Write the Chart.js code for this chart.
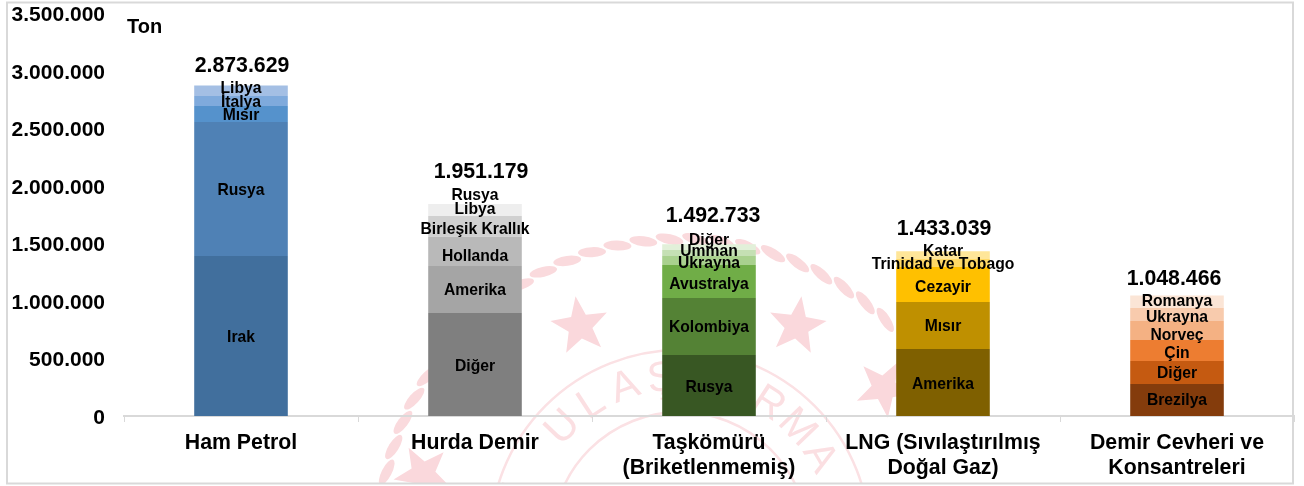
<!DOCTYPE html>
<html lang="tr">
<head>
<meta charset="utf-8">
<title>Ton</title>
<script src="https://cdn.jsdelivr.net/npm/chart.js@4"></script>
<style>
  html, body { margin: 0; padding: 0; background: #fff; }
  canvas { display: block; }
</style>
</head>
<body>
<canvas id="chart" width="1304" height="486"></canvas>
<script>
const categories = [
  "Ham Petrol",
  "Hurda Demir",
  ["Taşkömürü", "(Briketlenmemiş)"],
  ["LNG (Sıvılaştırılmış", "Doğal Gaz)"],
  ["Demir Cevheri ve", "Konsantreleri"],
];
const totals = [2873629, 1951179, 1492733, 1433039, 1048466];

// bottom to top in every stack
const hamPetrolNames = ["Irak", "Rusya", "Mısır", "İtalya", "Libya"];
const hamPetrolValues = [1391000, 1165000, 139000, 87000, 91629];
const hurdaNames = ["Diğer", "Amerika", "Hollanda", "Birleşik Krallık", "Libya", "Rusya"];
const hurdaValues = [895000, 409000, 255000, 180000, 104000, 108179];
const komurNames = ["Rusya", "Kolombiya", "Avustralya", "Ukrayna", "Umman", "Diğer"];
const komurValues = [530000, 496000, 287000, 78000, 52000, 49733];
const lngNames = ["Amerika", "Mısır", "Cezayir", "Trinidad ve Tobago", "Katar"];
const lngValues = [583000, 409000, 304000, 70000, 67039];
const cevherNames = ["Brezilya", "Diğer", "Çin", "Norveç", "Ukrayna", "Romanya"];
const cevherValues = [278000, 200000, 183000, 165000, 113000, 109466];

const stackNames = [hamPetrolNames, hurdaNames, komurNames, lngNames, cevherNames];
const stackValues = [hamPetrolValues, hurdaValues, komurValues, lngValues, cevherValues];

const stackColors = [
  ["#416f9d", "#4f81b5", "#5592cc", "#7faadc", "#a4bfe4"],
  ["#7f7f7f", "#a5a5a5", "#b9b9b9", "#d0d0d0", "#eeeeee", "#ffffff"],
  ["#385723", "#548235", "#70ad47", "#a9d18e", "#c5e0b4", "#e2f0d9"],
  ["#7f6000", "#bf9000", "#ffc000", "#ffd966", "#ffe699"],
  ["#843c0c", "#c55a11", "#ed7d31", "#f4b183", "#f8cbad", "#fbe5d6"],
];

// hand placed labels, same as the overlapping ones in the original
const nameShift = [
  [2, 2, 2, 2, -2],
  [2.5, 1, 5, 3, 0, -2],
  [2.5, 1, 3, 3, -1, -6.5],
  [2, 1, 3, 2, -3],
  [1, 1, 3, 5, 3, 0],
];
const totalShift = [19, 19, 28, 22, 16];
const totalShiftX = [1, 6, 4, 1, -3];

const layerCount = 6;
const datasets = [];
for (let layer = 0; layer < layerCount; layer++) {
  datasets.push({
    label: "layer" + layer,
    data: stackValues.map((values) => (values[layer] === undefined ? 0 : values[layer])),
    backgroundColor: stackColors.map((colors) => colors[layer] || "#ffffff"),
    borderWidth: 0,
    stack: "a",
    barPercentage: 0.4,
    categoryPercentage: 1,
  });
}

const fmt = (v) => String(v).replace(/\B(?=(\d{3})+(?!\d))/g, ".");

function star(ctx, x, y, r, rot) {
  ctx.beginPath();
  for (let i = 0; i < 10; i++) {
    const a = rot - Math.PI / 2 + (i * Math.PI) / 5;
    const rr = i % 2 ? r * 0.42 : r;
    ctx.lineTo(x + Math.cos(a) * rr, y + Math.sin(a) * rr);
  }
  ctx.closePath();
  ctx.fill();
}

// faint seal behind the chart
const sealPlugin = {
  id: "seal",
  beforeDraw(chart) {
    const ctx = chart.ctx;
    const cx = 680, cy = 540, r = 301;
    ctx.save();
    ctx.beginPath();
    ctx.rect(8, 3, 1285, 480);
    ctx.clip();
    ctx.fillStyle = "#fadadd";
    for (let a = 188; a < 318; a += 5) {
      const t = (a * Math.PI) / 180;
      ctx.save();
      ctx.translate(cx + Math.cos(t) * r, cy + Math.sin(t) * r);
      ctx.rotate(t + Math.PI / 2 + 0.25);
      ctx.beginPath();
      ctx.ellipse(0, 0, 14, 5, 0, 0, Math.PI * 2);
      ctx.fill();
      ctx.restore();
    }
    ctx.fillStyle = "#fad8dc";
    star(ctx, 580, 326, 30, -0.15);
    star(ctx, 797, 326, 30, 0.15);
    star(ctx, 423, 474, 30, -0.5);
    star(ctx, 884, 388, 30, 0.5);
    ctx.strokeStyle = "#fbe1e4";
    ctx.lineWidth = 2.5;
    [190, 128].forEach((rad) => {
      ctx.beginPath();
      ctx.arc(cx, cy, rad, Math.PI, Math.PI * 2);
      ctx.stroke();
    });
    ctx.fillStyle = "#fbdfe2";
    ctx.font = "42px 'Liberation Sans'";
    ctx.textAlign = "center";
    ctx.textBaseline = "middle";
    const seal = "ETİ ULAŞTIRMA VE";
    for (let i = 0; i < seal.length; i++) {
      const t = -Math.PI / 2 + ((i - seal.length / 2 + 0.5) * 13.2 * Math.PI) / 180;
      ctx.save();
      ctx.translate(cx + Math.cos(t) * 162, cy + Math.sin(t) * 162);
      ctx.rotate(t + Math.PI / 2);
      ctx.fillText(seal[i], 0, 0);
      ctx.restore();
    }
    ctx.restore();
  },
};

const labelPlugin = {
  id: "barNames",
  afterDatasetsDraw(chart) {
    const ctx = chart.ctx;
    const yScale = chart.scales.y;
    ctx.save();
    ctx.fillStyle = "#000";
    ctx.textAlign = "center";
    ctx.textBaseline = "middle";

    ctx.font = "bold 15.7px 'Liberation Sans'";
    stackNames.forEach((names, c) => {
      names.forEach((name, layer) => {
        const el = chart.getDatasetMeta(layer).data[c];
        const mid = (el.y + el.base) / 2;
        ctx.fillText(name, el.x, mid + nameShift[c][layer]);
      });
    });

    ctx.font = "bold 21.3px 'Liberation Sans'";
    totals.forEach((total, c) => {
      const x = chart.getDatasetMeta(0).data[c].x + totalShiftX[c];
      ctx.fillText(fmt(total), x, yScale.getPixelForValue(total) - totalShift[c]);
    });

    // axis unit and outer frame
    ctx.font = "bold 20px 'Liberation Sans'";
    ctx.textAlign = "left";
    ctx.fillText("Ton", 127, 27);
    ctx.strokeStyle = "#d9d9d9";
    ctx.lineWidth = 2;
    ctx.strokeRect(7, 2.5, 1286, 481);
    ctx.restore();
  },
};

new Chart(document.getElementById("chart"), {
  type: "bar",
  data: { labels: categories, datasets },
  options: {
    responsive: false,
    animation: false,
    layout: { padding: { left: 0, right: 10, top: 13.5, bottom: 0 } },
    plugins: { legend: { display: false }, tooltip: { enabled: false } },
    scales: {
      x: {
        stacked: true,
        afterFit: (axis) => { axis.height = 70; axis.paddingLeft = 0; axis.paddingRight = 0; },
        grid: { drawOnChartArea: false, tickLength: 6, tickColor: "#d9d9d9", lineWidth: 1 },
        border: { color: "#d9d9d9", width: 2 },
        ticks: {
          color: "#000",
          padding: 8,
          autoSkip: false,
          maxRotation: 0,
          font: { family: "'Liberation Sans'", size: 21.3, weight: "bold", lineHeight: 1.2 },
        },
      },
      y: {
        stacked: true,
        min: 0,
        max: 3500000,
        afterFit: (axis) => { axis.width = 124; axis.paddingTop = 0; axis.paddingBottom = 0; },
        grid: { display: false },
        border: { display: false },
        ticks: {
          stepSize: 500000,
          color: "#000",
          padding: 11,
          // empty first line pushes the number about 2px below its tick, like the original
          callback: (v) => ["", fmt(v)],
          font: { family: "'Liberation Sans'", size: 21, weight: "bold", lineHeight: "4px" },
        },
      },
    },
  },
  plugins: [sealPlugin, labelPlugin],
});
</script>
</body>
</html>
